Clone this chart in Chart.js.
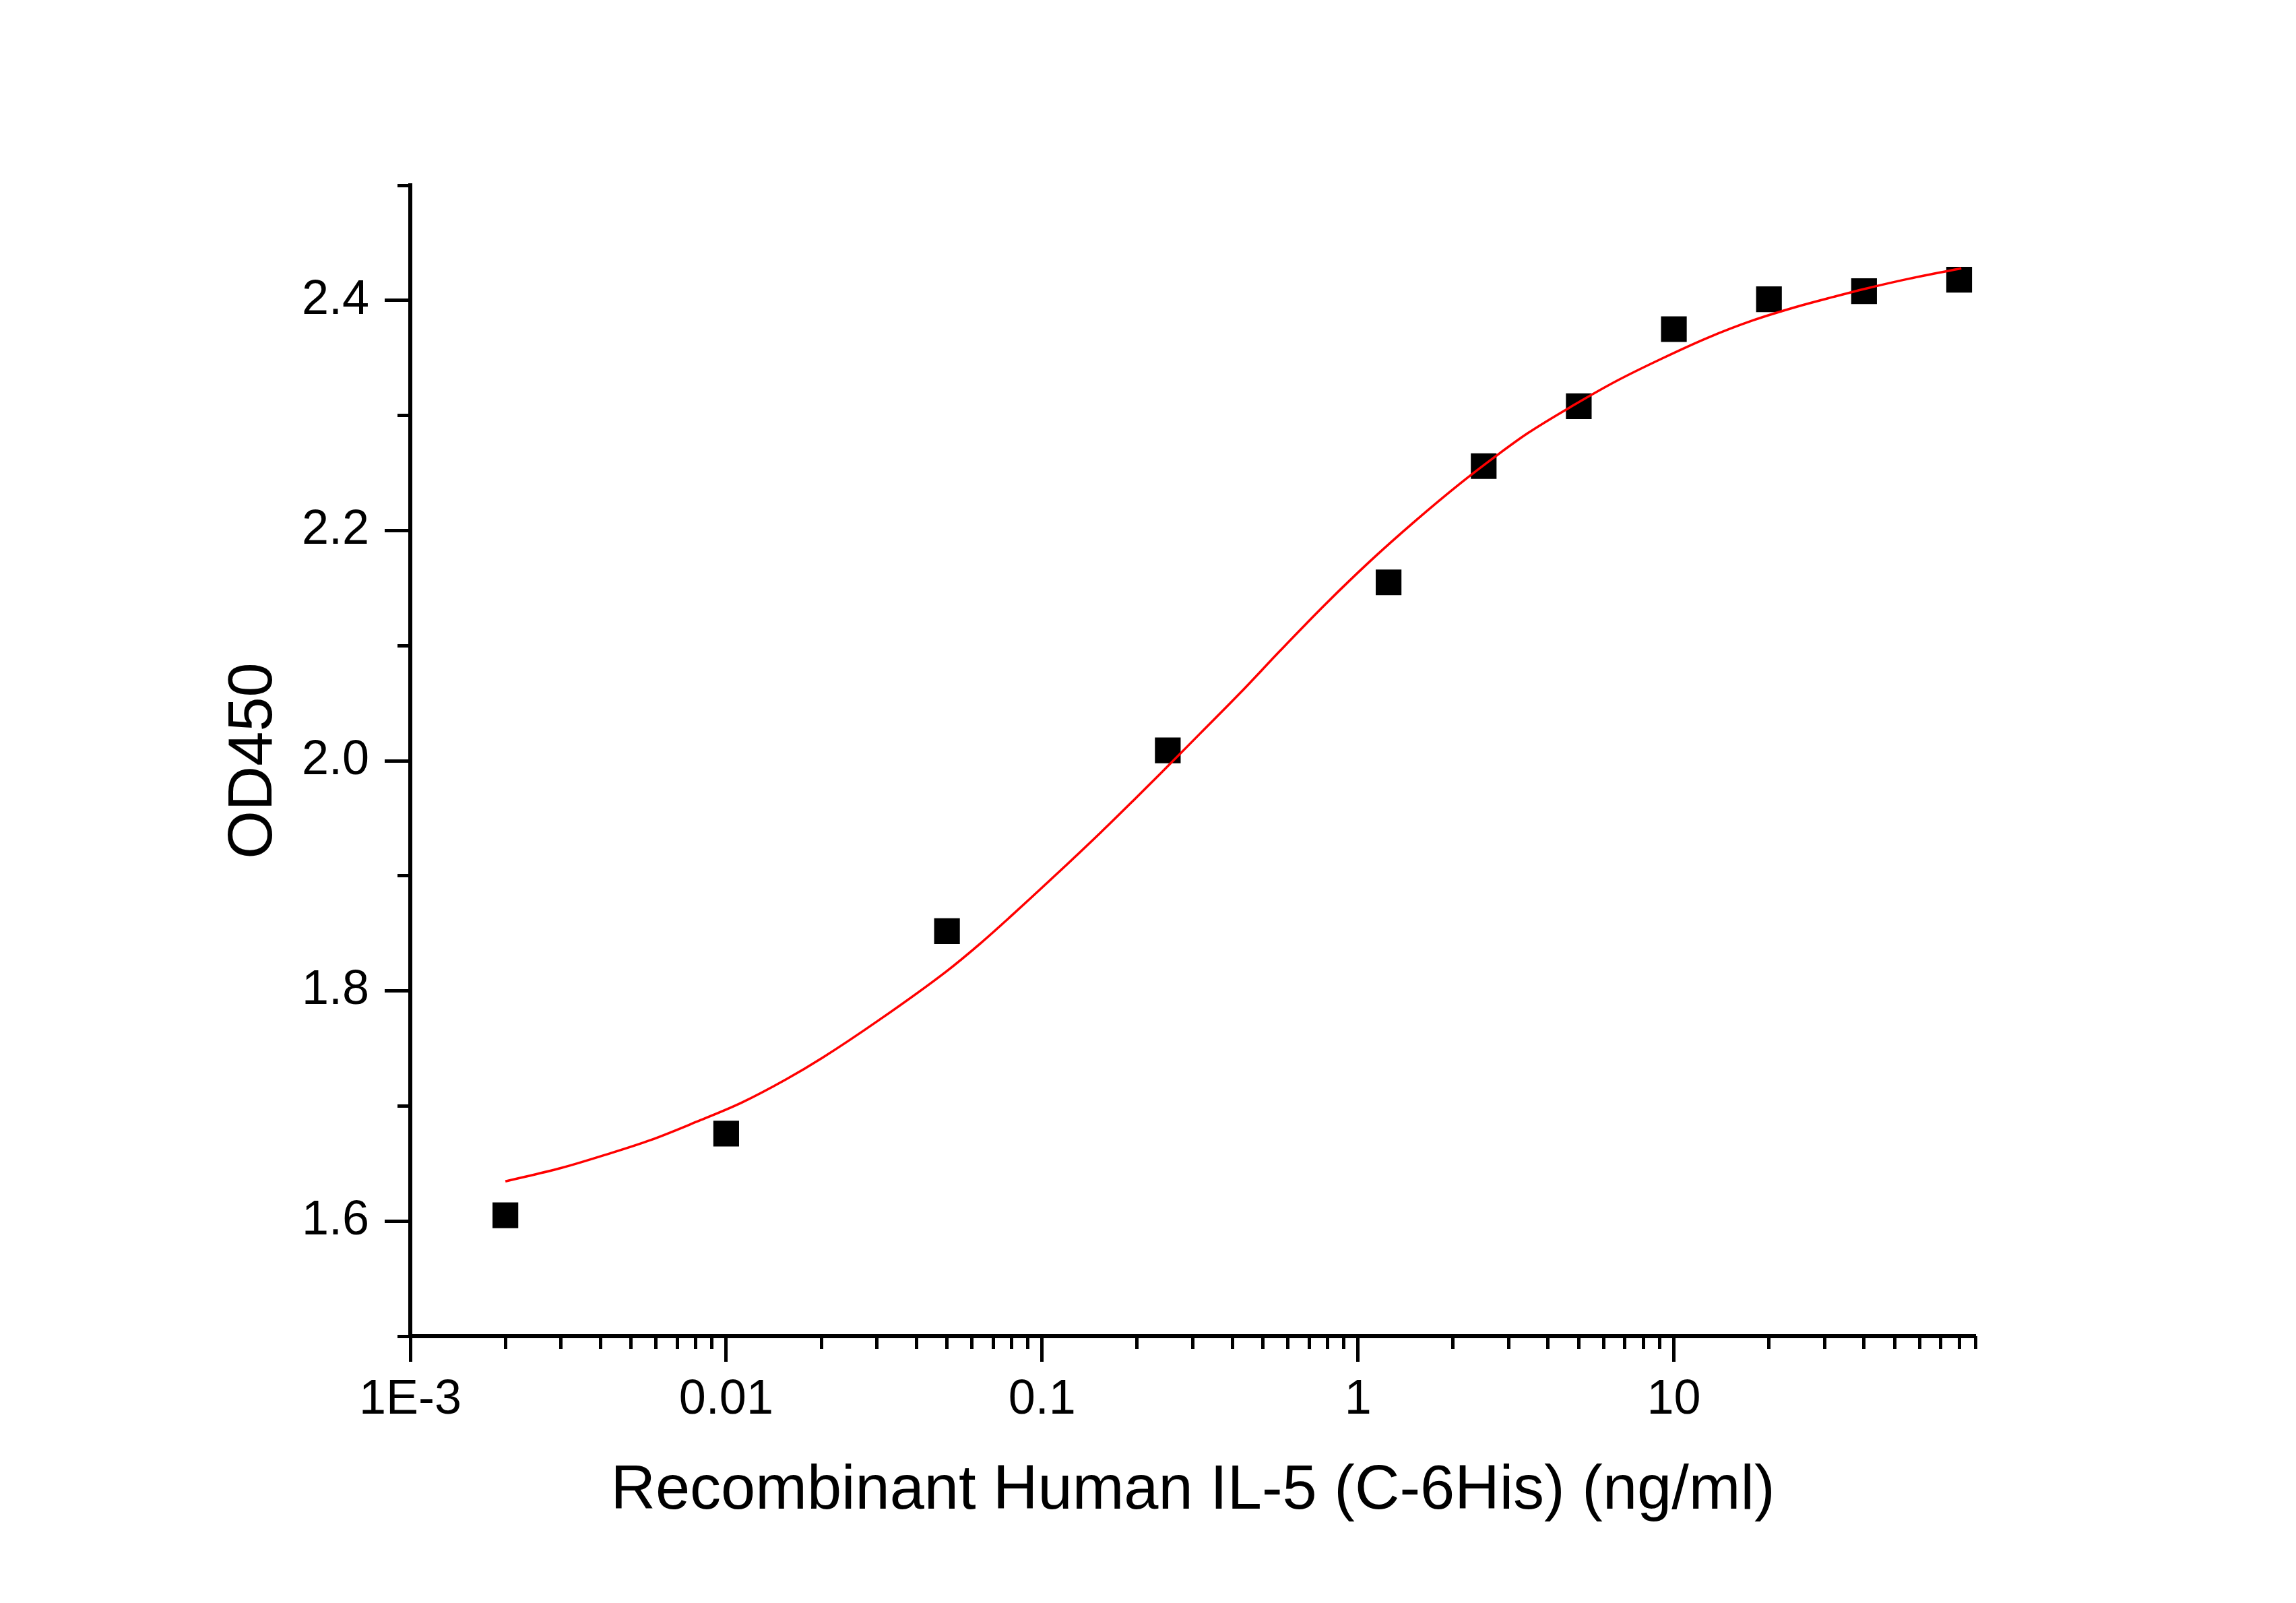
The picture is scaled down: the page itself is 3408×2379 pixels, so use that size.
<!DOCTYPE html>
<html><head><meta charset="utf-8">
<script src="https://cdn.jsdelivr.net/npm/chart.js@4"></script>
<style>html,body{margin:0;padding:0;background:#fff;} canvas{display:block;}</style>
</head><body>
<canvas id="c" width="3408" height="2379"></canvas>
<script>
// measured points
const concentrations = [0.002, 0.01, 0.05, 0.25, 1.25, 2.5, 5, 10, 20, 40, 80];
const od450 = [1.605, 1.676, 1.852, 2.009, 2.155, 2.256, 2.308, 2.375, 2.401, 2.408, 2.418];
// fitted curve
const fitX = [0.002, 0.00301, 0.00418, 0.00579, 0.00804, 0.01117, 0.01549, 0.02014, 0.0304, 0.0498, 0.0638, 0.0796, 0.1107, 0.1535, 0.1963, 0.235, 0.316, 0.4276, 0.5689, 0.7889, 1.0965, 1.5205, 2.1086, 2.7416, 3.443, 4.786, 6.637, 9.204, 12.79, 17.74, 24.6, 31.99, 40.18, 55.85, 81.28];
const fitY = [1.6345, 1.6462, 1.6579, 1.6706, 1.6862, 1.7028, 1.7232, 1.7418, 1.7745, 1.817, 1.8413, 1.8648, 1.9010, 1.9378, 1.9665, 1.9878, 2.0235, 2.0600, 2.0960, 2.1360, 2.1738, 2.2085, 2.2410, 2.2650, 2.2845, 2.3085, 2.3305, 2.3497, 2.3675, 2.3825, 2.3946, 2.4030, 2.4100, 2.4190, 2.4278];
// axis ticks
const xMajorTicks = [0.001, 0.01, 0.1, 1, 10];
const xMajorLabels = ['1E-3', '0.01', '0.1', '1', '10'];
const xMinorTicks = [0.002,0.003,0.004,0.005,0.006,0.007,0.008,0.009,
                     0.02,0.03,0.04,0.05,0.06,0.07,0.08,0.09,
                     0.2,0.3,0.4,0.5,0.6,0.7,0.8,0.9,
                     2,3,4,5,6,7,8,9,
                     20,30,40,50,60,70,80,90];
const yMajorTicks = [1.6, 1.8, 2.0, 2.2, 2.4];
const yMajorLabels = ['1.6', '1.8', '2.0', '2.2', '2.4'];
const yMinorTicks = [1.5, 1.7, 1.9, 2.1, 2.3, 2.5];
const xTitle = 'Recombinant Human IL-5 (C-6His) (ng/ml)';
const yTitle = 'OD450';

const FONT = '"Liberation Sans", Arial, Helvetica, sans-serif';
Chart.defaults.font.family = FONT;
Chart.defaults.color = '#000';

const scatterData = concentrations.map((x, i) => ({x: x, y: od450[i]}));
const curveData = fitX.map((x, i) => ({x: x, y: fitY[i]}));

new Chart(document.getElementById('c'), {
  type: 'scatter',
  data: {
    datasets: [
      {
        label: 'fit', data: curveData, xAxisID: 'x', yAxisID: 'y',
        showLine: true, borderColor: '#ff0000', borderWidth: 3.5,
        pointRadius: 0, cubicInterpolationMode: 'monotone', fill: false, order: 0
      },
      {
        label: 'data', data: scatterData, xAxisID: 'x', yAxisID: 'y',
        showLine: false, pointStyle: 'rect', pointRadius: 27, pointBorderWidth: 0,
        backgroundColor: '#000', borderColor: '#000', order: 1
      }
    ]
  },
  options: {
    responsive: false, animation: false, devicePixelRatio: 1,
    layout: { padding: { left: 0, top: 275, right: 476, bottom: 0 } },
    plugins: { legend: { display: false }, tooltip: { enabled: false } },
    scales: {
      x: {
        type: 'logarithmic', axis: 'x', position: 'bottom', min: 0.001, max: 90, weight: 1,
        afterFit: s => { s.height = 396; },
        afterBuildTicks: s => { s.ticks = xMajorTicks.map(v => ({value: v, major: false})); },
        grid: { drawOnChartArea: false, drawTicks: true, tickLength: 38, tickWidth: 5, tickColor: '#000' },
        border: { display: true, color: '#000', width: 6 },
        ticks: { color: '#000', font: { size: 72 }, padding: 14, maxRotation: 0, minRotation: 0, autoSkip: false,
                 callback: (v) => xMajorLabels[xMajorTicks.indexOf(v)] },
        title: { display: true, text: xTitle, color: '#000', font: { size: 92 }, padding: { top: 0, bottom: 110 } }
      },
      xMinor: {
        type: 'logarithmic', axis: 'x', position: 'bottom', min: 0.001, max: 90, weight: 0,
        afterFit: s => { s.height = 0; },
        afterBuildTicks: s => { s.ticks = xMinorTicks.map(v => ({value: v})); },
        grid: { drawOnChartArea: false, drawTicks: true, tickLength: 19, tickWidth: 5, tickColor: '#000' },
        border: { display: false },
        ticks: { display: false, autoSkip: false }
      },
      y: {
        type: 'linear', axis: 'y', position: 'left', min: 1.5, max: 2.5, weight: 1,
        afterFit: s => { s.width = 609; },
        afterBuildTicks: s => { s.ticks = yMajorTicks.map(v => ({value: v})); },
        grid: { drawOnChartArea: false, drawTicks: true, tickLength: 38, tickWidth: 5, tickColor: '#000' },
        border: { display: true, color: '#000', width: 6 },
        ticks: { color: '#000', font: { size: 72 }, padding: 23, autoSkip: false,
                 callback: (v) => yMajorLabels[yMajorTicks.findIndex(t => Math.abs(t - v) < 1e-9)] },
        title: { display: true, text: yTitle, color: '#000', font: { size: 92 }, padding: { top: 322, bottom: 0 } }
      },
      yMinor: {
        type: 'linear', axis: 'y', position: 'left', min: 1.5, max: 2.5, weight: 0,
        afterFit: s => { s.width = 0; },
        afterBuildTicks: s => { s.ticks = yMinorTicks.map(v => ({value: v})); },
        grid: { drawOnChartArea: false, drawTicks: true, tickLength: 19, tickWidth: 5, tickColor: '#000' },
        border: { display: false },
        ticks: { display: false, autoSkip: false }
      }
    }
  }
});
</script>
</body></html>
